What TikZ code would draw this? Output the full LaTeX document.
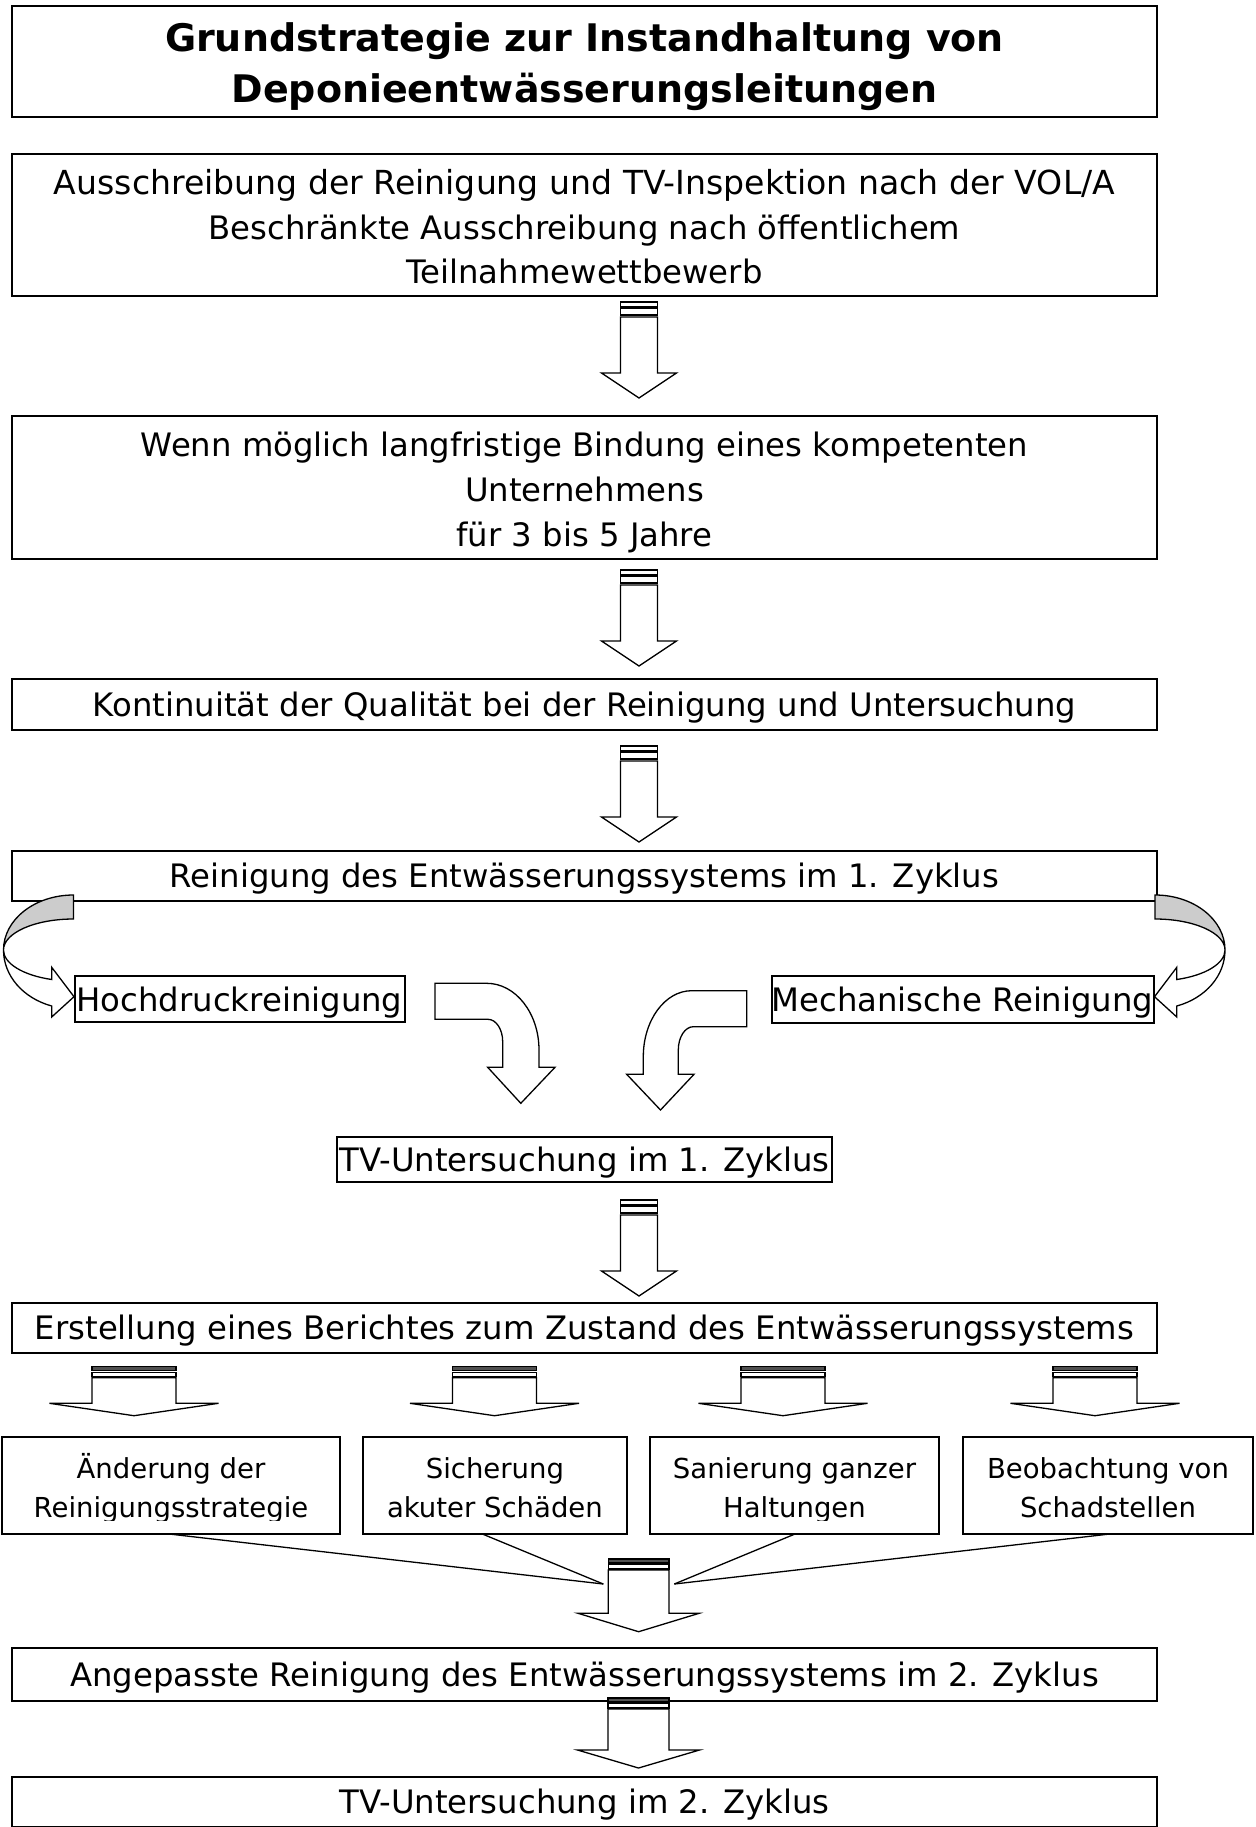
\documentclass[tikz,border=0pt]{standalone}
\usepackage{fontspec}
\setmainfont{DejaVu Sans}
\definecolor{bandgray}{RGB}{204,204,204}
\definecolor{stripegray}{RGB}{80,80,80}
\newcommand\mainfnt{\fontsize{32.3}{44.7}\selectfont}
\newcommand\smallfnt{\fontsize{27.5}{39.5}\selectfont}
\newcommand\titlefnt{\fontsize{38}{51.3}\selectfont\bfseries}
% struts: fixed top of first line and bottom of last line
\newcommand\ts{\rule{0pt}{0.98em}}
\newcommand\tsm{\rule{0pt}{1.12em}}
\newcommand\tss{\rule{0pt}{1.15em}}
\newcommand\tts{\rule{0pt}{1.08em}}
\newcommand\bs{\rule[-0.25em]{0pt}{0.25em}}
\tikzset{
  box/.style={draw, line width=2pt, inner sep=0pt, align=center, font=\mainfnt, minimum width=1145pt},
  sbox/.style={inner sep=0pt, align=center, font=\smallfnt},
  blk/.style={draw, line width=1.3pt, fill=white, line join=miter},
  fan/.style={line width=1.3pt},
}
% big striped block arrow, argument: top y
\newcommand\bigdownarrow[1]{%
  \draw[blk] (620.5,#1) rectangle (657.5,#1+5);
  \draw[blk] (620.5,#1+6) rectangle (657.5,#1+13);
  \draw[blk] (620.5,#1+15) -- (620.5,#1+71) -- (601.5,#1+71) -- (639,#1+96)
     -- (676.5,#1+71) -- (657.5,#1+71) -- (657.5,#1+15) -- cycle;
}
% flat striped block arrow: cx, top, shaft half, head half, head base y, tip y
\newcommand\flatarrow[6]{%
  \draw[blk, fill=stripegray] (#1-#3,#2) rectangle (#1+#3,#2+4);
  \draw[blk] (#1-#3,#2+5.5) rectangle (#1+#3,#2+10);
  \draw[blk] (#1-#3,#2+11) -- (#1-#3,#5) -- (#1-#4,#5) -- (#1,#6)
     -- (#1+#4,#5) -- (#1+#3,#5) -- (#1+#3,#2+11) -- cycle;
}
% curved arrow (left version)
\newcommand\curvedshape{%
  \draw[blk, fill=bandgray] (73.5,895) .. controls (34.8,895) and (3.5,919.6) .. (3.5,950)
     .. controls (3.5,932.9) and (34.8,919) .. (73.5,919) -- cycle;
  \draw[blk] (3.5,950) .. controls (3.5,975.6) and (22.9,998.1) .. (51.7,1006)
     -- (51.7,1017) -- (74,996.7) -- (51.7,967.3) -- (51.7,979.5)
     .. controls (22.9,975.3) and (3.5,963.4) .. (3.5,950) -- cycle;
}
\begin{document}
\begin{tikzpicture}[x=1pt, y=-1pt]
\useasboundingbox (0,0) rectangle (1255,1827);

% main boxes
\node[box, minimum height=110.7pt, font=\titlefnt] (title) at (584.5,61.3)
  {\tts Grundstrategie zur Instandhaltung von\\Deponieentwässerungsleitungen\bs};
\node[box, minimum height=142pt] (ausschr) at (584.5,225)
  {\tsm{\fontsize{33.1}{44.7}\selectfont Ausschreibung der Reinigung und TV-Inspektion nach der VOL/A}\\Beschränkte Ausschreibung nach öffentlichem\\Teilnahmewettbewerb\bs};
\node[box, minimum height=143pt] (bindung) at (584.5,487.5)
  {\tsm Wenn möglich langfristige Bindung eines kompetenten\\Unternehmens\\für 3 bis 5 Jahre\bs};
\node[box, minimum height=50.5pt] (kont) at (584.5,704.3)
  {\ts Kontinuität der Qualität bei der Reinigung und Untersuchung\bs};
\node[box, minimum height=50pt] (rein1) at (584.5,876)
  {\ts Reinigung des Entwässerungssystems im 1. Zyklus\bs};
\node[box, minimum width=330pt, minimum height=46.3pt] (hoch) at (239.5,999.2)
  {\ts Hochdruckreinigung\bs};
\node[box, minimum width=382pt, minimum height=46.7pt] (mech) at (962.5,999.3)
  {\ts Mechanische Reinigung\bs};
\node[box, minimum width=495pt, minimum height=45pt] (tv1) at (584.5,1159.5)
  {\ts TV-Untersuchung im 1. Zyklus\bs};
\node[box, minimum height=50pt] (erst) at (584.5,1327.5)
  {\ts Erstellung eines Berichtes zum Zustand des Entwässerungssystems\bs};
\node[box, minimum height=52.7pt] (ang) at (584.5,1674.7)
  {\ts Angepasste Reinigung des Entwässerungssystems im 2. Zyklus\bs};
\node[box, minimum height=50pt] (tv2) at (584.5,1802)
  {\ts TV-Untersuchung im 2. Zyklus\bs};

% four measure boxes (text clipped as in the original)
\begin{scope}
  \clip (0,1430) rectangle (1255,1520.5);
  \node[sbox, minimum width=337pt, minimum height=97pt] (b1) at (171,1485.5)
    {\tss Änderung der\\Reinigungsstrategie\bs};
  \node[sbox, minimum width=264.3pt, minimum height=97pt] (b2) at (494.9,1485.5)
    {\tss Sicherung\\akuter Schäden\bs};
  \node[sbox, minimum width=289pt, minimum height=97pt] (b3) at (794.5,1485.5)
    {\tss Sanierung ganzer\\Haltungen\bs};
  \node[sbox, minimum width=290pt, minimum height=97pt] (b4) at (1108,1485.5)
    {\tss Beobachtung von\\Schadstellen\bs};
\end{scope}
\foreach \b in {b1,b2,b3,b4}
  \draw[line width=2pt] (\b.north west) rectangle (\b.south east);

% straight striped arrows
\bigdownarrow{302}
\bigdownarrow{570}
\bigdownarrow{746}
\bigdownarrow{1200}

% curved arrows to the two cleaning methods
\curvedshape
\begin{scope}[xshift=1228.5pt, xscale=-1]
  \curvedshape
\end{scope}

% bent arrows to TV inspection
\draw[blk] (435,983.3) -- (486.7,983.3) .. controls (515.6,983.3) and (539,1013.2) .. (539,1050)
  -- (539,1067.3) -- (555,1067.3) -- (520.8,1103.3) -- (487.7,1067.3) -- (502.7,1067.3)
  -- (502.7,1041.7) .. controls (502.7,1029.3) and (496.1,1019.3) .. (488,1019.3)
  -- (435,1019.3) -- cycle;
\draw[blk] (746.7,990.7) -- (691.7,990.7) .. controls (665.0,990.7) and (643.3,1020.2) .. (643.3,1056.7)
  -- (643.3,1074.3) -- (626.7,1074.3) -- (660.5,1110) -- (694,1074.3) -- (678.3,1074.3)
  -- (678.3,1050) .. controls (678.3,1037.1) and (685.0,1026.7) .. (693.3,1026.7)
  -- (746.7,1026.7) -- cycle;

% four small arrows from the report
\flatarrow{134}{1366.7}{42}{84.5}{1403.3}{1415.7}
\flatarrow{494.5}{1366.7}{42}{84.5}{1403.3}{1415.7}
\flatarrow{783}{1366.7}{42}{84.5}{1403.3}{1415.7}
\flatarrow{1095}{1366.7}{42}{84.5}{1403.3}{1415.7}

% fan-in lines
\coordinate (fanL) at (603.3,1584);
\coordinate (fanR) at (674.3,1584);
\draw[fan] (b1.south) -- (fanL);
\draw[fan] ([xshift=-12pt]b2.south) -- (fanL);
\draw[fan] (b3.south) -- (fanR);
\draw[fan] (b4.south) -- (fanR);

% arrows to the second cycle
\flatarrow{638.6}{1559}{30.3}{60.5}{1613.3}{1631.7}
\flatarrow{638.5}{1698}{30.5}{61}{1750}{1768}
\end{tikzpicture}
\end{document}
